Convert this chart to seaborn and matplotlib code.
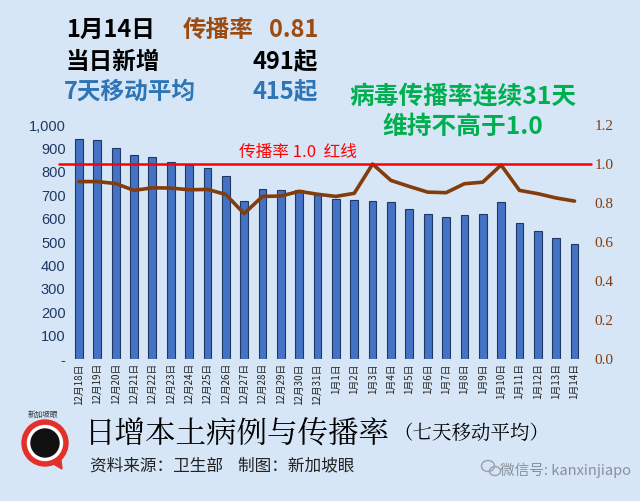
import matplotlib
matplotlib.use("Agg")
import matplotlib.pyplot as plt
import matplotlib.patches as mpatches
import seaborn as sns
import pandas as pd

sns.set_theme(style="white")
plt.rcParams['font.family'] = ['Noto Sans CJK SC', 'DejaVu Sans']

# ------------------------------
# data
# ------------------------------
dates = ["12月18日", "12月19日", "12月20日", "12月21日", "12月22日", "12月23日", "12月24日",
         "12月25日", "12月26日", "12月27日", "12月28日", "12月29日", "12月30日", "12月31日",
         "1月1日", "1月2日", "1月3日", "1月4日", "1月5日", "1月6日", "1月7日",
         "1月8日", "1月9日", "1月10日", "1月11日", "1月12日", "1月13日", "1月14日"]
avg7 = [940, 934, 903, 873, 863, 840, 829, 815, 783, 675, 726, 721, 722, 702,
        682, 680, 677, 669, 643, 618, 606, 615, 618, 670, 580, 546, 516, 491]
rate = [0.91, 0.91, 0.90, 0.865, 0.878, 0.877, 0.868, 0.87, 0.844, 0.746, 0.834, 0.836, 0.86, 0.845,
        0.834, 0.85, 1.0, 0.916, 0.885, 0.856, 0.853, 0.899, 0.907, 0.995, 0.865, 0.848, 0.826, 0.81]
left_ticks = [0, 100, 200, 300, 400, 500, 600, 700, 800, 900, 1000]
left_labels = ["-", "100", "200", "300", "400", "500", "600", "700", "800", "900", "1,000"]
right_ticks = [0.0, 0.2, 0.4, 0.6, 0.8, 1.0, 1.2]

df = pd.DataFrame({"date": dates, "avg7": avg7, "rate": rate})

BG = "#d6e6f6"
BAR = "#4472c4"
BAR_EDGE = "#1f3864"
BROWN = "#843c0c"
NAVY = "#1f3864"
BLUE_TXT = "#2e75b6"
GREEN = "#00b050"

fig = plt.figure(figsize=(6.4, 5.01), dpi=100, facecolor=BG)
ax = fig.add_axes([0.109, 0.2834, 0.803, 0.467])
ax.set_facecolor(BG)

# bars: 7 day moving average
sns.barplot(data=df, x="date", y="avg7", color=BAR, edgecolor=BAR_EDGE,
            linewidth=0.8, width=0.42, saturation=1, ax=ax)
ax.set_ylim(0, 1000)
ax.set_xlim(-0.5, len(dates) - 0.5)
ax.set_yticks(left_ticks)
ax.set_yticklabels(left_labels, color=NAVY, fontsize=10.5, family=['Liberation Sans', 'DejaVu Sans'])
ax.set_xticks(range(len(dates)))
ax.set_xticklabels(dates, rotation=90, fontsize=7, color="#222222")
ax.set_xlabel("")
ax.set_ylabel("")
ax.tick_params(axis="both", length=0, pad=3)
for s in ax.spines.values():
    s.set_visible(False)
ax.axhline(0, color="#c8d4e0", lw=0.8)

# right axis: transmission rate
ax2 = ax.twinx()
ax2.set_ylim(0, 1.2)
sns.lineplot(x=list(range(len(dates))), y=rate, color=BROWN, lw=2.6, ax=ax2)
ax2.lines[-1].set_solid_joinstyle("round")
ax2.lines[-1].set_solid_capstyle("round")
ax2.set_yticks(right_ticks)
ax2.set_yticklabels([f"{v:.1f}" for v in right_ticks], color=BROWN, fontsize=11,
                    family=['Liberation Serif', 'DejaVu Serif'])
ax2.tick_params(axis="y", length=0, pad=8)
for s in ax2.spines.values():
    s.set_visible(False)
ax2.grid(False)
ax2.axhline(1.0, xmin=-0.02, xmax=1.015, color="#ff0000", lw=1.8, clip_on=False)
ax2.text(0.33, 1.06, "传播率 1.0  红线", color="#ff0000", fontsize=12,
         transform=ax2.get_yaxis_transform(), ha="left", va="center")

# header texts
HS = 17
fig.text(66 / 640, 1 - 30 / 501, "1月14日", fontsize=HS, weight="bold", color="black", va="center")
fig.text(183 / 640, 1 - 30 / 501, "传播率", fontsize=HS, weight="bold", color="#9c4a10", va="center")
fig.text(318 / 640, 1 - 30 / 501, "0.81", fontsize=HS, weight="bold", color="#9c4a10", va="center", ha="right")
fig.text(66 / 640, 1 - 62 / 501, "当日新增", fontsize=HS, weight="bold", color="black", va="center")
fig.text(318 / 640, 1 - 62 / 501, "491起", fontsize=HS, weight="bold", color="black", va="center", ha="right")
fig.text(64 / 640, 1 - 92 / 501, "7天移动平均", fontsize=HS, weight="bold", color=BLUE_TXT, va="center")
fig.text(318 / 640, 1 - 92 / 501, "415起", fontsize=HS, weight="bold", color=BLUE_TXT, va="center", ha="right")
fig.text(463 / 640, 1 - 97 / 501, "病毒传播率连续31天", fontsize=17.8, weight="bold", color=GREEN, va="center", ha="center")
fig.text(463 / 640, 1 - 127 / 501, "维持不高于1.0", fontsize=17.8, weight="bold", color=GREEN, va="center", ha="center")

# footer
fig.text(85 / 640, 1 - 434 / 501, "日增本土病例与传播率", fontsize=22, color="black", va="center",
         family=['Noto Serif CJK SC', 'Noto Sans CJK SC', 'DejaVu Sans'])
fig.text(393 / 640, 1 - 434 / 501, "（七天移动平均）", fontsize=14, color="black", va="center",
         family=['Noto Serif CJK SC', 'Noto Sans CJK SC', 'DejaVu Sans'])
fig.text(90 / 640, 1 - 466 / 501, "资料来源：卫生部    制图：新加坡眼", fontsize=12, color="#222222", va="center")
fig.text(500 / 640, 1 - 470 / 501, "微信号: kanxinjiapo", fontsize=10.5, color="#8a9099", va="center")

# logo: red ring with black eye
lax = fig.add_axes([0, 0, 1, 1], facecolor="none")
lax.set_xlim(0, 640)
lax.set_ylim(501, 0)
lax.axis("off")
lax.add_patch(mpatches.Polygon([[50, 462], [62, 469], [60, 452]], closed=True, color="#e3302a"))
lax.add_patch(mpatches.Circle((45, 443), 23, color="#e3302a"))
lax.add_patch(mpatches.Circle((45, 443), 17.5, color="white"))
lax.add_patch(mpatches.Circle((45, 443), 14, color="#111111"))
lax.text(43, 415, "新加坡眼", fontsize=5.5, ha="center", va="center", color="#333333")
# wechat icon
lax.add_patch(mpatches.Ellipse((488, 466), 13, 11, fill=False, ec="#9aa0a8", lw=1))
lax.add_patch(mpatches.Ellipse((495, 471), 11, 9, fill=False, ec="#9aa0a8", lw=1))

fig.savefig("out.png", dpi=100, facecolor=BG)
